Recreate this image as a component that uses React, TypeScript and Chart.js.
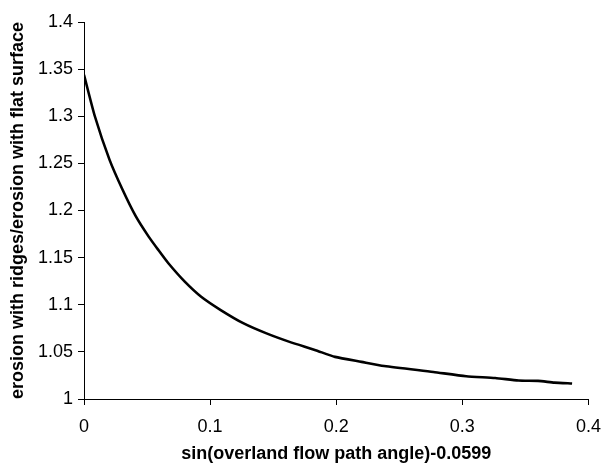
import React, { useEffect, useRef } from "react";
import { Chart, registerables } from "chart.js";

Chart.register(...registerables);

const xValues = [
  0, 0.0086, 0.0202, 0.0306, 0.041, 0.0514, 0.059, 0.0669, 0.0799, 0.0929,
  0.1084, 0.1266, 0.1447, 0.163, 0.1836, 0.199, 0.22, 0.238, 0.277, 0.303,
  0.326, 0.3445, 0.36, 0.373, 0.387,
];
const yValues = [
  1.344, 1.3, 1.254, 1.222, 1.194, 1.172, 1.158, 1.144, 1.1245, 1.1085,
  1.0944, 1.0802, 1.0696, 1.0606, 1.0518, 1.0447, 1.0394, 1.035, 1.0287, 1.0242,
  1.0223, 1.0196, 1.0192, 1.0174, 1.0164,
];
const xTitle = "sin(overland flow path angle)-0.0599";
const yTitle = "erosion with ridges/erosion with flat surface";

const FONT = "'Liberation Sans', Arial, sans-serif";

export default function App() {
  const ref = useRef<HTMLCanvasElement>(null);
  useEffect(() => {
    if (!ref.current) return;
    const chart = new Chart(ref.current, {
      type: "scatter",
      data: {
        datasets: [
          {
            data: xValues.map((x, i) => ({ x, y: yValues[i] })),
            showLine: true,
            borderColor: "#000",
            borderWidth: 2.6,
            pointRadius: 0,
            tension: 0.2,
            fill: false,
          },
        ],
      },
      options: {
        responsive: false,
        animation: false,
        layout: { padding: { top: 22, right: 14, left: 0, bottom: 0 } },
        plugins: { legend: { display: false }, tooltip: { enabled: false } },
        scales: {
          x: {
            type: "linear",
            min: 0,
            max: 0.4,
            afterFit: (s: any) => {
              s.height = 66;
            },
            ticks: {
              stepSize: 0.1,
              color: "#000",
              font: { family: FONT, size: 18 },
              padding: 11,
              maxRotation: 0,
              callback: (v: any) => String(Math.round(Number(v) * 10) / 10),
            },
            grid: {
              drawOnChartArea: false,
              drawTicks: true,
              tickLength: 6,
              color: "#000",
            },
            border: { color: "#000", width: 1 },
            title: {
              display: true,
              text: xTitle,
              color: "#000",
              font: { family: FONT, size: 18, weight: "bold" },
              padding: { top: 2, bottom: 0 },
            },
          },
          y: {
            type: "linear",
            min: 1,
            max: 1.4,
            afterFit: (s: any) => {
              s.width = 84;
            },
            ticks: {
              stepSize: 0.05,
              color: "#000",
              font: { family: FONT, size: 18 },
              padding: 5,
              callback: (v: any) => String(Math.round(Number(v) * 100) / 100),
            },
            grid: {
              drawOnChartArea: false,
              drawTicks: true,
              tickLength: 6,
              color: "#000",
            },
            border: { color: "#000", width: 1 },
            title: {
              display: true,
              text: yTitle,
              color: "#000",
              font: { family: FONT, size: 18, weight: "bold" },
              padding: { top: 7, bottom: 0 },
            },
          },
        },
      },
    });
    return () => chart.destroy();
  }, []);
  return (
    <div style={{ position: "fixed", left: 0, top: 0, width: 612, height: 465, background: "#fff" }}>
      <canvas ref={ref} width={612} height={465} />
    </div>
  );
}
